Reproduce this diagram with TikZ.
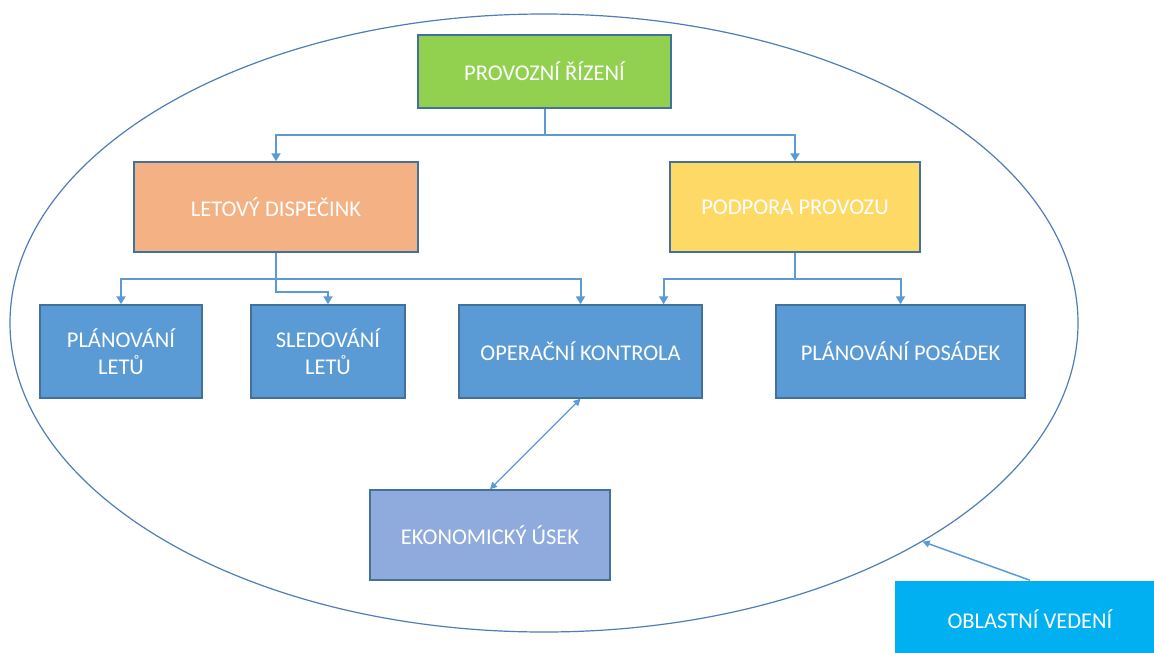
\documentclass[tikz,border=0pt]{standalone}
\usepackage{fontspec}
\setmainfont{Carlito}
\usetikzlibrary{arrows.meta,shapes.geometric,calc}
\definecolor{bgreen}{HTML}{92D050}
\definecolor{borange}{HTML}{F4B183}
\definecolor{byellow}{HTML}{FFD966}
\definecolor{bblue}{HTML}{5B9BD5}
\definecolor{blight}{HTML}{8FAADC}
\definecolor{bcyan}{HTML}{00B0F0}
\definecolor{bborder}{HTML}{41719C}
\definecolor{ellcol}{HTML}{4F7DB5}
\tikzset{
  box/.style={draw=bborder, line width=1.5pt, text=white, align=center, inner sep=0pt,
    font=\fontsize{22.5}{27}\selectfont},
  conn/.style={draw=bblue, line width=2pt, -{Triangle[width=9pt,length=8pt]}},
  dconn/.style={draw=bblue, line width=1.2pt, {Triangle[width=7pt,length=7pt]}-{Triangle[width=7pt,length=7pt]}},
}
\begin{document}
\begin{tikzpicture}[x=1pt,y=1pt]
\clip (0,0) rectangle (1154,-653);
\fill[white] (0,0) rectangle (1154,-653);
\node[ellipse, draw=ellcol, line width=1.2pt, minimum width=1068pt, minimum height=618pt, inner sep=0pt] (ell) at (544,-323) {};

\node[box, fill=bgreen, minimum width=253pt, minimum height=73pt] (prov) at (544.5,-71.5) {PROVOZNÍ ŘÍZENÍ};
\node[box, fill=borange, minimum width=284pt, minimum height=90pt] (let) at (276,-207) {LETOVÝ DISPEČINK};
\node[box, fill=byellow, minimum width=250pt, minimum height=90pt] (pod) at (795,-207) {PODPORA PROVOZU};
\node[box, fill=bblue, minimum width=162pt, minimum height=93pt] (plan) at (121,-351.5) {PLÁNOVÁNÍ\\LETŮ};
\node[box, fill=bblue, minimum width=154pt, minimum height=93pt] (sled) at (328,-351.5) {SLEDOVÁNÍ\\LETŮ};
\node[box, fill=bblue, minimum width=243pt, minimum height=93pt] (oper) at (580.5,-351.5) {OPERAČNÍ KONTROLA};
\node[box, fill=bblue, minimum width=249pt, minimum height=93pt] (pos) at (900.5,-351.5) {PLÁNOVÁNÍ POSÁDEK};
\node[box, fill=blight, minimum width=240pt, minimum height=90pt] (eko) at (490,-535) {EKONOMICKÝ ÚSEK};
\node[box, draw=none, fill=bcyan, minimum width=270pt, minimum height=76pt] (obl) at (1030,-619) {OBLASTNÍ VEDENÍ};

\draw[conn] (prov.south) -- ++(0,-26) -| (let.north);
\draw[conn] (prov.south) -- ++(0,-26) -| (pod.north);

\draw[conn] (let.south) -- ++(0,-26) -| (plan.north);
\draw[conn] (let.south) -- ++(0,-26) -| (oper.north);
\draw[conn] (let.south) -- ++(0,-39) -| (sled.north);

\coordinate (operR) at ($(oper.north west)!0.84!(oper.north east)$);
\draw[conn] (pod.south) -- ++(0,-26) -| (operR);
\draw[conn] (pod.south) -- ++(0,-26) -| (pos.north);

\draw[dconn] (oper.south) -- (eko.north);

\draw[draw=bblue, line width=1.5pt, -{Triangle[width=7pt,length=7pt]}] (obl.north) -- (ell.-30);
\end{tikzpicture}
\end{document}
